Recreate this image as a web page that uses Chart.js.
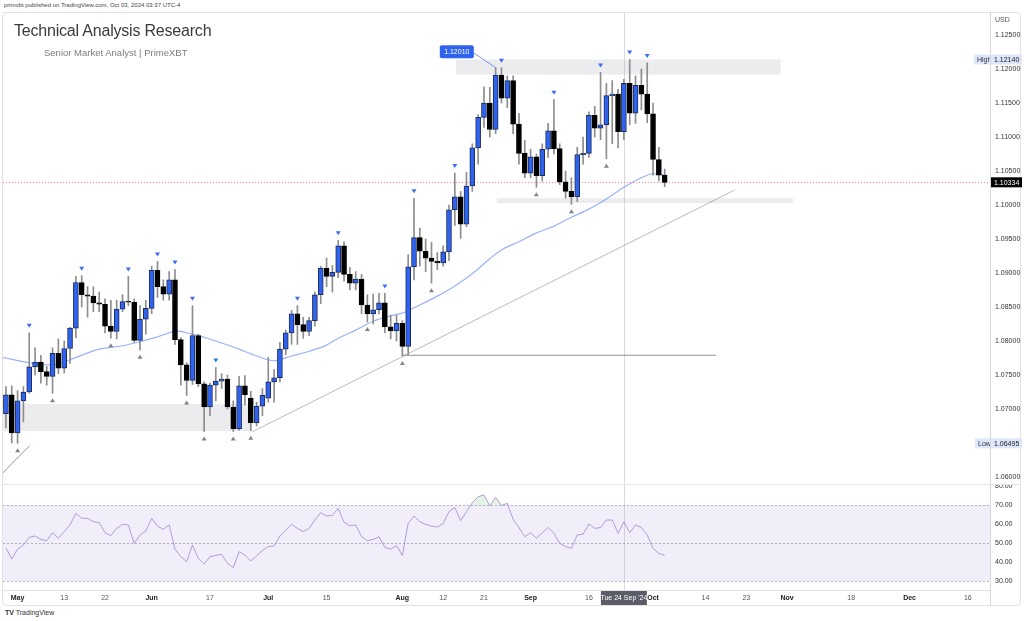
<!DOCTYPE html>
<html>
<head>
<meta charset="utf-8">
<script src="https://cdn.jsdelivr.net/npm/chart.js@4.4.1/dist/chart.umd.min.js"></script>
<style>
  body { margin: 0; background: #fff; font-family: 'Liberation Sans', Arial, sans-serif; }
  #wrap { position: relative; width: 1024px; height: 621px; overflow: hidden; }
  #frame { position: absolute; left: 2px; top: 12px; width: 1019px; height: 594px; border: 1px solid #e3e3e6; border-radius: 4px; box-sizing: border-box; }
  #pricePane { position: absolute; left: 0; top: 13px; width: 1024px; height: 471px; }
  #rsiPane { position: absolute; left: 0; top: 484px; width: 1024px; height: 122px; }
  .hline { position: absolute; height: 1px; background: #e6e6ea; }
  .vline { position: absolute; width: 1px; background: #d8d8dc; }
  #pub { position: absolute; left: 4px; top: 2px; font-size: 6px; color: #444; }
  #title { position: absolute; left: 14px; top: 22px; font-size: 16px; letter-spacing: -0.2px; color: #3a3a3a; }
  #sub { position: absolute; left: 44px; top: 47px; font-size: 9.5px; color: #7d7d7d; }
  #tv { position: absolute; left: 5px; top: 609px; font-size: 7px; color: #333; }
</style>
</head>
<body>
<div id="wrap">
  <div id="frame"></div>
  <div id="pricePane"><canvas id="priceChart"></canvas></div>
  <div id="rsiPane"><canvas id="rsiChart"></canvas></div>
  <div class="hline" style="left:3px;top:484px;width:1018px;"></div>
  <div class="vline" style="left:990px;top:12px;height:594px;"></div>
  <div id="pub">primxbt published on TradingView.com, Oct 03, 2024 03:37 UTC-4</div>
  <div id="title">Technical Analysis Research</div>
  <div id="sub">Senior Market Analyst | PrimeXBT</div>
  <div id="tv"><b>TV</b> TradingView</div>
</div>
<script>
// EUR/USD daily, index 0 = Mon 29 Apr 2024 ... 113 = Thu 3 Oct 2024 (trading days)
const opens = [
  1.0693,1.0721,1.0665,1.0712,1.0725,1.0762,1.0769,1.0755,1.0748,1.0782,
  1.0760,1.0789,1.0819,1.0886,1.0868,1.0866,1.0856,1.0854,1.0822,1.0814,
  1.0847,1.0858,1.0857,1.0801,1.0832,1.0848,1.0904,1.0880,1.0869,1.0890,
  1.0802,1.0765,1.0742,1.0808,1.0737,1.0703,1.0735,1.0741,1.0744,1.0703,
  1.0671,1.0734,1.0716,1.0680,1.0704,1.0716,1.0740,1.0746,1.0788,1.0812,
  1.0840,1.0824,1.0814,1.0830,1.0868,1.0907,1.0895,1.0901,1.0940,1.0898,
  1.0885,1.0891,1.0853,1.0840,1.0846,1.0856,1.0821,1.0815,1.0826,1.0792,
  1.0909,1.0952,1.0932,1.0922,1.0917,1.0915,1.0931,1.0993,1.1012,1.0972,
  1.1028,1.1084,1.1129,1.1150,1.1111,1.1191,1.1157,1.1183,1.1119,1.1076,
  1.1047,1.1071,1.1043,1.1082,1.1109,1.1083,1.1034,1.1020,1.1012,1.1074,
  1.1076,1.1132,1.1113,1.1118,1.1161,1.1163,1.1108,1.1179,1.1135,1.1176,
  1.1163,1.1134,1.1067,1.1044
];
const highs = [
  1.0733,1.0734,1.0727,1.0733,1.0812,1.0790,1.0779,1.0763,1.0790,1.0803,
  1.0800,1.0820,1.0895,1.0896,1.0880,1.0880,1.0872,1.0862,1.0860,1.0860,
  1.0868,1.0895,1.0862,1.0852,1.0860,1.0910,1.0917,1.0890,1.0902,1.0905,
  1.0805,1.0768,1.0852,1.0810,1.0740,1.0738,1.0761,1.0752,1.0750,1.0712,
  1.0748,1.0749,1.0726,1.0710,1.0730,1.0776,1.0758,1.0798,1.0816,1.0845,
  1.0852,1.0835,1.0835,1.0872,1.0910,1.0922,1.0911,1.0948,1.0946,1.0908,
  1.0902,1.0898,1.0868,1.0869,1.0870,1.0870,1.0838,1.0838,1.0830,1.0927,
  1.1010,1.0966,1.0950,1.0945,1.0930,1.0940,1.1000,1.1047,1.1020,1.1048,
  1.1090,1.1133,1.1174,1.1173,1.1201,1.1202,1.1190,1.1190,1.1135,1.1095,
  1.1082,1.1075,1.1090,1.1120,1.1155,1.1090,1.1050,1.1040,1.1085,1.1100,
  1.1137,1.1145,1.1195,1.1179,1.1183,1.1170,1.1185,1.1214,1.1190,1.1200,
  1.1209,1.1150,1.1085,1.1053
];
const lows = [
  1.0672,1.0650,1.06495,1.0681,1.0723,1.0750,1.0738,1.0735,1.0723,1.0752,
  1.0753,1.0767,1.0805,1.0850,1.0835,1.0843,1.0843,1.0812,1.0804,1.0803,
  1.0843,1.0852,1.0798,1.0787,1.0810,1.0840,1.0864,1.0860,1.0860,1.0795,
  1.0735,1.0720,1.0736,1.0733,1.0667,1.0690,1.0712,1.0730,1.0700,1.0667,
  1.0669,1.0706,1.0668,1.0675,1.0690,1.0710,1.0710,1.0740,1.0780,1.0795,
  1.0795,1.0804,1.0808,1.0822,1.0855,1.0880,1.0872,1.0893,1.0888,1.0875,
  1.0875,1.0840,1.0828,1.0825,1.0840,1.0812,1.0803,1.0800,1.0778,1.0780,
  1.0890,1.0910,1.0902,1.0885,1.0905,1.0910,1.0918,1.0970,1.0951,1.0968,
  1.1020,1.1060,1.1114,1.1100,1.1105,1.1150,1.1143,1.1105,1.1060,1.1040,
  1.1040,1.1026,1.1035,1.1070,1.1075,1.1030,1.1010,1.1001,1.1005,1.1060,
  1.1070,1.1100,1.1096,1.1068,1.1090,1.1084,1.1096,1.1118,1.1120,1.1140,
  1.1121,1.1044,1.1035,1.1027
];
const closes = [
  1.0721,1.0665,1.0712,1.0725,1.0762,1.0769,1.0755,1.0748,1.0782,1.0760,
  1.0789,1.0819,1.0886,1.0868,1.0866,1.0856,1.0854,1.0822,1.0814,1.0847,
  1.0858,1.0857,1.0801,1.0832,1.0848,1.0904,1.0880,1.0869,1.0890,1.0802,
  1.0765,1.0742,1.0808,1.0737,1.0703,1.0735,1.0741,1.0744,1.0703,1.0671,
  1.0734,1.0721,1.0680,1.0704,1.0720,1.0740,1.0746,1.0788,1.0812,1.0840,
  1.0824,1.0814,1.0830,1.0868,1.0907,1.0895,1.0901,1.0940,1.0898,1.0885,
  1.0891,1.0853,1.0840,1.0846,1.0856,1.0821,1.0815,1.0826,1.0792,1.0909,
  1.0952,1.0932,1.0922,1.0917,1.0915,1.0931,1.0993,1.1012,1.0972,1.1028,
  1.1084,1.1129,1.1150,1.1111,1.1191,1.1157,1.1183,1.1119,1.1076,1.1047,
  1.1071,1.1043,1.1082,1.1109,1.1083,1.1034,1.1020,1.1012,1.1074,1.1076,
  1.1132,1.1113,1.1118,1.1161,1.1163,1.1108,1.1179,1.1135,1.1176,1.1163,
  1.1134,1.1067,1.1044,1.10334
];

// moving average (trading-day index, price)
const maIdx = [-0.5,0,4,8,12,16,20,23,26,28,29,32,36,40,43,46,49,52,55,57,60,63,66,68,71,74,77,80,83,85,88,91,94,97,100,103,106,109,111,113];
const maVal = [1.0776,1.0775,1.0768,1.0765,1.0776,1.0788,1.0793,1.0799,1.0806,1.0812,1.0815,1.0810,1.0800,1.0788,1.0778,1.0771,1.0778,1.0785,1.0794,1.0804,1.0816,1.0829,1.0837,1.0841,1.0853,1.0866,1.0881,1.0899,1.0921,1.0934,1.0946,1.0959,1.0969,1.0982,1.0994,1.1009,1.1026,1.1040,1.1046,1.1044];

// RSI, one value per candle
const rsiVal = [
  47.5,41.6,46.8,48.9,53.0,53.7,51.9,51.2,55.4,52.5,
  56.0,59.5,65.6,63.0,63.0,61.2,60.7,55.4,53.9,57.7,
  59.8,59.5,49.8,54.2,56.3,63.0,58.9,57.2,59.5,46.7,
  42.8,40.2,48.9,41.9,38.9,42.8,43.5,44.0,39.3,37.0,
  45.4,43.7,40.5,43.2,46.0,48.1,48.4,53.7,56.8,59.8,
  57.7,56.0,57.7,62.1,66.0,64.2,64.6,68.2,60.9,59.1,
  59.5,53.3,51.2,51.9,53.3,47.7,46.8,48.6,43.5,60.4,
  64.2,61.2,59.8,58.9,58.4,60.2,66.5,68.6,61.8,66.5,
  71.2,74.4,75.3,69.6,74.0,69.8,70.9,62.5,58.1,53.3,
  55.4,52.5,55.4,58.2,55.1,49.8,48.1,47.2,54.2,54.6,
  60.0,57.7,58.1,62.1,62.1,55.1,61.2,55.4,59.5,58.2,
  54.2,47.2,44.6,43.5
];

const pivotHighIdx = [4,13,21,26,29,32,36,50,57,65,70,77,85,94,102,107,110];
const pivotLowIdx = [2,8,18,23,31,34,39,42,62,68,73,91,97,103];

const priceTicks = [1.06,1.065,1.07,1.075,1.08,1.085,1.09,1.095,1.10,1.105,1.11,1.115,1.12,1.125];
const rsiTicks = [30,40,50,60,70,80];
const dateTickIdx = [2,10,17,25,35,45,55,68,75,82,90,100,111,120,127,134,145,155,165];
const dateTickText = ['May','13','22','Jun','17','Jul','15','Aug','12','21','Sep','16','Oct','14','23','Nov','18','Dec','16'];
const monthNames = ['May','Jun','Jul','Aug','Sep','Oct','Nov','Dec'];

const highMark = 1.12140;
const lowMark = 1.06495;
const lastPrice = 1.10334;
const calloutPrice = 1.12010;
const calloutIdx = 84.2;
const crossIdx = 106;
const crossText = "Tue 24 Sep '24";

// zones: [fromIdx, toIdx, topPrice, bottomPrice]
const zones = [
  [77.2, 132.9, 1.1214, 1.1192],
  [84.2, 135.0, 1.1010, 1.1003],
  [-0.5, 42.2, 1.07074, 1.06676]
];
const supportLine = [[68, 1.0779], [121.8, 1.0779]];
const trendLine = [[42.2, 1.06662], [125.0, 1.10221]];
const arcLine = [[-0.5, 1.0606], [1.5, 1.0624], [4.1, 1.0646]];

const X_MIN = -0.5, X_MAX = 168.8;
const BLUE = '#2f63ee';
const idx = closes.map((_, i) => i);

function fixAxis(w) {
  return function (s) {
    if (w) s.width = w;
    s.paddingTop = 0; s.paddingBottom = 0; s.paddingLeft = 0; s.paddingRight = 0;
  };
}

function isMonthTick(ctx) {
  if (!ctx || !ctx.tick) return false;
  return monthNames.includes(dateTickText[dateTickIdx.indexOf(ctx.tick.value)]);
}

function labelBox(ctx, text, x, y, w, h, bg, fg) {
  ctx.fillStyle = bg;
  ctx.fillRect(x, y - h / 2, w, h);
  ctx.fillStyle = fg;
  ctx.textBaseline = 'middle';
  ctx.fillText(text, x + 3, y + 0.5);
}

const priceOverlay = {
  id: 'priceOverlay',
  beforeDatasetsDraw(chart) {
    const { ctx, chartArea: a, scales: { x, y } } = chart;
    ctx.save();
    ctx.fillStyle = 'rgba(205,206,212,0.38)';
    zones.forEach(z => {
      const x0 = x.getPixelForValue(z[0]), x1 = x.getPixelForValue(z[1]);
      const y0 = y.getPixelForValue(z[2]), y1 = y.getPixelForValue(z[3]);
      ctx.fillRect(x0, y0, x1 - x0, y1 - y0);
    });
    const cx = Math.round(x.getPixelForValue(crossIdx)) + 0.5;
    ctx.strokeStyle = 'rgba(150,152,160,0.35)';
    ctx.lineWidth = 1;
    ctx.beginPath(); ctx.moveTo(cx, a.top); ctx.lineTo(cx, a.bottom); ctx.stroke();
    const ly = Math.round(y.getPixelForValue(lastPrice)) + 0.5;
    ctx.setLineDash([1, 2]);
    ctx.strokeStyle = 'rgba(242,54,69,0.6)';
    ctx.beginPath(); ctx.moveTo(a.left, ly); ctx.lineTo(a.right, ly); ctx.stroke();
    ctx.restore();
  },
  afterDatasetsDraw(chart) {
    const { ctx, scales: { x, y } } = chart;
    ctx.save();
    // pivot markers
    ctx.fillStyle = '#3d6ff2';
    pivotHighIdx.forEach(i => {
      const px = x.getPixelForValue(i), py = y.getPixelForValue(highs[i]) - 5;
      ctx.beginPath(); ctx.moveTo(px - 2.5, py - 4); ctx.lineTo(px + 2.5, py - 4); ctx.lineTo(px, py); ctx.closePath(); ctx.fill();
    });
    ctx.fillStyle = '#80838c';
    pivotLowIdx.forEach(i => {
      const px = x.getPixelForValue(i), py = y.getPixelForValue(lows[i]) + 5;
      ctx.beginPath(); ctx.moveTo(px - 2.5, py + 4); ctx.lineTo(px + 2.5, py + 4); ctx.lineTo(px, py); ctx.closePath(); ctx.fill();
    });
    // callout
    const ax = x.getPixelForValue(calloutIdx), ay = y.getPixelForValue(calloutPrice);
    const bx = ax - 57, by = ay - 23;
    ctx.strokeStyle = 'rgba(61,111,242,0.7)';
    ctx.lineWidth = 1;
    ctx.beginPath(); ctx.moveTo(bx + 33, by + 7); ctx.lineTo(ax, ay); ctx.stroke();
    ctx.fillStyle = '#2f63ee';
    ctx.beginPath(); ctx.roundRect(bx, by, 34, 13, 2); ctx.fill();
    ctx.fillStyle = '#fff';
    ctx.font = '7px "Liberation Sans", Arial';
    ctx.textBaseline = 'middle';
    ctx.textAlign = 'center';
    ctx.fillText(calloutPrice.toFixed(5), bx + 17, by + 7);
    ctx.restore();
  },
  afterDraw(chart) {
    const { ctx, chartArea: a, scales: { y } } = chart;
    ctx.save();
    ctx.font = '7px "Liberation Sans", Arial';
    ctx.textAlign = 'left';
    ctx.fillStyle = '#555';
    ctx.textBaseline = 'middle';
    ctx.fillText('USD', a.right + 5, 7);
    const hy = y.getPixelForValue(highMark);
    labelBox(ctx, 'High', a.right - 16, hy, 16, 10, '#dde6fb', '#333');
    labelBox(ctx, highMark.toFixed(5), a.right + 1, hy, 31, 10, '#dde6fb', '#222');
    const lw = y.getPixelForValue(lowMark);
    labelBox(ctx, 'Low', a.right - 15, lw, 15, 10, '#dde6fb', '#333');
    labelBox(ctx, lowMark.toFixed(5), a.right + 1, lw, 31, 10, '#dde6fb', '#222');
    labelBox(ctx, lastPrice.toFixed(5), a.right + 1, y.getPixelForValue(lastPrice), 31, 10, '#000', '#fff');
    ctx.restore();
  }
};

const rsiOverlay = {
  id: 'rsiOverlay',
  beforeDatasetsDraw(chart) {
    const { ctx, chartArea: a, scales: { x, y } } = chart;
    ctx.save();
    const y70 = y.getPixelForValue(70), y50 = y.getPixelForValue(50), y30 = y.getPixelForValue(30);
    ctx.fillStyle = 'rgba(126,87,194,0.1)';
    ctx.fillRect(a.left, y70, a.right - a.left, y30 - y70);
    ctx.strokeStyle = 'rgba(120,123,134,0.55)';
    ctx.lineWidth = 1;
    ctx.setLineDash([2, 2]);
    [y70, y50, y30].forEach(v => {
      const yy = Math.round(v) + 0.5;
      ctx.beginPath(); ctx.moveTo(a.left, yy); ctx.lineTo(a.right, yy); ctx.stroke();
    });
    ctx.setLineDash([]);
    const cx = Math.round(x.getPixelForValue(crossIdx)) + 0.5;
    ctx.strokeStyle = 'rgba(150,152,160,0.35)';
    ctx.beginPath(); ctx.moveTo(cx, a.top); ctx.lineTo(cx, a.bottom); ctx.stroke();
    ctx.restore();
  },
  afterDraw(chart) {
    const { ctx, chartArea: a, scales: { x } } = chart;
    ctx.save();
    const cx = x.getPixelForValue(crossIdx);
    ctx.fillStyle = '#5b5e68';
    ctx.fillRect(cx - 23, a.bottom + 1, 46, 14);
    ctx.fillStyle = '#fff';
    ctx.font = '7px "Liberation Sans", Arial';
    ctx.textAlign = 'center';
    ctx.textBaseline = 'middle';
    ctx.fillText(crossText, cx, a.bottom + 8.5);
    ctx.restore();
  }
};

const bodyColors = idx.map(i => closes[i] >= opens[i] ? BLUE : '#000');
const bodyBorders = idx.map(i => closes[i] >= opens[i] ? '#1d2b55' : '#000');

new Chart(document.getElementById('priceChart'), {
  type: 'bar',
  data: {
    datasets: [
      {
        label: 'body',
        data: idx.map(i => ({ x: i, y: [opens[i], closes[i]] })),
        backgroundColor: bodyColors,
        borderColor: bodyBorders,
        borderWidth: 1,
        borderSkipped: false,
        barThickness: 5,
        minBarLength: 1,
        grouped: false,
        order: 1
      },
      {
        label: 'wick',
        data: idx.map(i => ({ x: i, y: [lows[i], highs[i]] })),
        backgroundColor: '#8d8d8d',
        barThickness: 1,
        grouped: false,
        order: 2
      },
      {
        type: 'line', label: 'ma',
        data: maIdx.map((v, k) => ({ x: v, y: maVal[k] })),
        borderColor: 'rgba(84,128,250,0.6)', borderWidth: 1.2,
        pointRadius: 0, cubicInterpolationMode: 'monotone', order: 3
      },
      {
        type: 'line', label: 'trend',
        data: trendLine.map(p => ({ x: p[0], y: p[1] })),
        borderColor: 'rgba(140,140,140,0.6)', borderWidth: 1, pointRadius: 0, order: 4
      },
      {
        type: 'line', label: 'support',
        data: supportLine.map(p => ({ x: p[0], y: p[1] })),
        borderColor: 'rgba(110,110,110,0.75)', borderWidth: 1, pointRadius: 0, order: 4
      },
      {
        type: 'line', label: 'arc',
        data: arcLine.map(p => ({ x: p[0], y: p[1] })),
        borderColor: 'rgba(110,110,110,0.75)', borderWidth: 1, pointRadius: 0, tension: 0.4, order: 4
      }
    ]
  },
  options: {
    animation: false,
    responsive: true,
    maintainAspectRatio: false,
    layout: { padding: { left: 3, right: 0, top: 0, bottom: 0 } },
    plugins: { legend: { display: false }, tooltip: { enabled: false } },
    scales: {
      x: { type: 'linear', min: X_MIN, max: X_MAX, offset: false, display: false },
      y: {
        position: 'right',
        min: 1.05897, max: 1.12824,
        grid: { display: false, drawTicks: false },
        border: { display: false },
        afterBuildTicks(s) { s.ticks = priceTicks.map(v => ({ value: v })); },
        afterFit: fixAxis(34),
        ticks: {
          padding: 5, color: '#333',
          font: { size: 7, family: '"Liberation Sans", Arial' },
          callback: v => v.toFixed(5)
        }
      }
    }
  },
  plugins: [priceOverlay]
});

new Chart(document.getElementById('rsiChart'), {
  type: 'line',
  data: {
    datasets: [{
      label: 'RSI',
      data: idx.map(i => ({ x: i, y: rsiVal[i] })),
      borderColor: 'rgba(126,87,194,0.55)',
      borderWidth: 1,
      pointRadius: 0,
      fill: { target: { value: 70 }, above: 'rgba(76,175,80,0.15)', below: 'rgba(0,0,0,0)' }
    }]
  },
  options: {
    animation: false,
    responsive: true,
    maintainAspectRatio: false,
    layout: { padding: { left: 3, right: 0, top: 0, bottom: 0 } },
    plugins: { legend: { display: false }, tooltip: { enabled: false } },
    scales: {
      x: {
        type: 'linear', min: X_MIN, max: X_MAX, offset: false,
        grid: { display: false, drawTicks: false },
        border: { display: true, color: '#e0e1e6' },
        afterBuildTicks(s) { s.ticks = dateTickIdx.map(v => ({ value: v })); },
        afterFit(s) { s.height = 16; s.paddingLeft = 0; s.paddingRight = 0; },
        ticks: {
          autoSkip: false, maxRotation: 0, padding: 4,
          color: ctx => isMonthTick(ctx) ? '#222' : '#555',
          font: ctx => ({
            size: 7, family: '"Liberation Sans", Arial',
            weight: isMonthTick(ctx) ? 'bold' : 'normal'
          }),
          callback: v => dateTickText[dateTickIdx.indexOf(v)]
        }
      },
      y: {
        position: 'right',
        min: 25.26, max: 81.05,
        grid: { display: false, drawTicks: false },
        border: { display: false },
        afterBuildTicks(s) { s.ticks = rsiTicks.map(v => ({ value: v })); },
        afterFit: fixAxis(34),
        ticks: {
          padding: 5, color: '#333',
          font: { size: 7, family: '"Liberation Sans", Arial' },
          callback: v => v.toFixed(2)
        }
      }
    }
  },
  plugins: [rsiOverlay]
});
</script>
</body>
</html>
